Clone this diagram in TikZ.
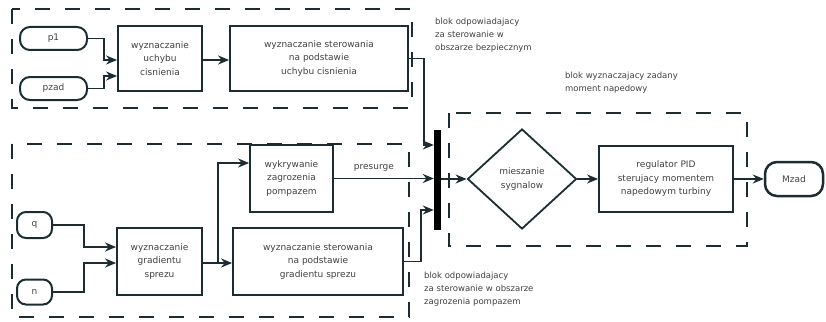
\documentclass[tikz,border=0pt]{standalone}
\usepackage{fontspec}
\setmainfont{DejaVu Sans}
\usetikzlibrary{positioning, arrows.meta, shapes.geometric}
\definecolor{lin}{RGB}{28,44,48}

\begin{document}
\begin{tikzpicture}[x=1pt, y=-1pt,
    font=\fontsize{9}{13.5}\selectfont, text=black!75,
    blok/.style={draw=lin, line width=1.8pt, align=center, inner sep=2pt},
    term/.style={draw=lin, line width=2pt, rounded corners=10pt, inner sep=0pt},
    ramka/.style={draw=lin, line width=2pt, dash pattern=on 15pt off 15pt},
    opis/.style={align=left, anchor=north west, inner sep=0pt, font=\fontsize{8.5}{13}\selectfont},
    sig/.style={draw=lin, line width=1.8pt, -{Stealth[length=11pt,width=9pt]}}]
                \useasboundingbox (0,0) rectangle (826,321);

                % frames
                \draw[ramka] (12,9) rectangle (412,108);
                \draw[ramka] (12,144) rectangle (409,317);
                \draw[ramka] (449,113) rectangle (747,246);

                \node[opis] (LB1) at (435,18) {blok odpowiadajacy\\za sterowanie w\\obszarze bezpiecznym};
                \node[opis] (LB2) at (565,72) {blok wyznaczajacy zadany\\moment napedowy};
                \node[opis] (LB3) at (424,272) {blok odpowiadajacy\\za sterowanie w obszarze\\zagrozenia pompazem};

                % upper block
                \node[term, minimum width=67pt, minimum height=23pt] (P1) at (53.5,38.5) {p1};
                \node[term, minimum width=67pt, minimum height=23pt] (PZ) at (53.5,88.5) {pzad};
                \node[blok, minimum width=84pt, minimum height=65pt] (UC) at (160,58.5) {wyznaczanie\\uchybu\\cisnienia};
                \node[blok, minimum width=178pt, minimum height=65pt] (SP) at (319,58.5) {wyznaczanie sterowania\\na podstawie\\uchybu cisnienia};

                % lower block
                \node[term, minimum width=35pt, minimum height=26pt, rounded corners=9pt] (Q) at (34.5,225) {q};
                \node[term, minimum width=35pt, minimum height=25pt, rounded corners=9pt] (N) at (34.5,292) {n};
                \node[blok, minimum width=85pt, minimum height=67pt] (GR) at (159.5,261.5) {wyznaczanie\\gradientu\\sprezu};
                \node[blok, minimum width=83pt, minimum height=67pt] (WZ) at (291.5,178.5) {wykrywanie\\zagrozenia\\pompazem};
                \node[blok, minimum width=170pt, minimum height=67pt] (SG) at (318,261.5) {wyznaczanie sterowania\\na podstawie\\gradientu sprezu};

                % mixing and output
                \node[fill=black, minimum width=7pt, minimum height=100pt, inner sep=0pt] (BAR) at (437.5,180) {};
                \node[draw=lin, diamond, line width=1.8pt, minimum width=109pt, minimum height=100pt, inner sep=0pt, align=center] (MIX) at (522,179) {mieszanie\\sygnalow};
                \node[blok, minimum width=134pt, minimum height=66pt] (PID) at (666,179) {regulator PID\\sterujacy momentem\\napedowym turbiny};
                \node[term, line width=2.5pt, rounded corners=12pt, minimum width=58pt, minimum height=34pt] (MZ) at (794,179) {Mzad};

                \draw[sig] (P1.east) -- ++(16,0) |- ([yshift=-1.5pt]UC.west);
                \draw[sig] (PZ.east) -- ++(16,0) |- ([yshift=-17.5pt]UC.west);
                \draw[sig] ([yshift=-1.5pt]UC.east) -- ([yshift=-1.5pt]SP.west);
                \draw[sig] (SP.east) -- ++(15,0) |- ([yshift=35pt]BAR.west);

                \draw[sig] (Q.east) -- ++(31,0) |- ([yshift=14.5pt]GR.west);
                \draw[sig] (N.east) -- ++(31,0) |- ([yshift=-1.5pt]GR.west);
                \draw[sig] ([yshift=-1.5pt]GR.east) -- ([yshift=-1.5pt]SG.west);
                \draw[sig] ([yshift=-1.5pt]GR.east) -- ++(15,0) |- ([yshift=15.5pt]WZ.west);
                \draw[sig] (WZ.east) -- node[above=3pt, pos=0.4] {presurge} (WZ.east -| BAR.west);
                \draw[sig] (SG.east) -- ++(17,0) |- ([yshift=-30pt]BAR.west);

                \draw[sig] (BAR.east |- MIX.west) -- (MIX.west);
                \draw[sig] (MIX.east) -- (PID.west);
                \draw[sig] (PID.east) -- (MZ.west);
            \end{tikzpicture}
\end{document}
